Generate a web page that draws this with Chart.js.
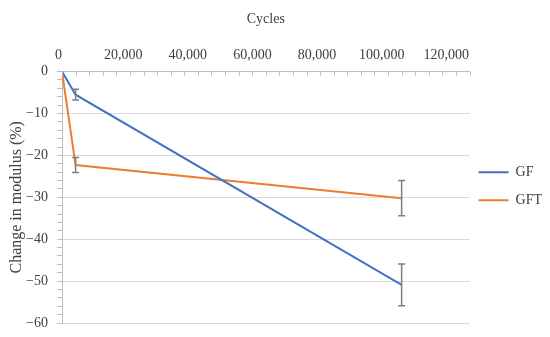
<!DOCTYPE html>
<html>
<head>
<meta charset="utf-8">
<script src="https://cdn.jsdelivr.net/npm/chart.js@4.4.0/dist/chart.umd.min.js"></script>
<style>
html,body{margin:0;padding:0;background:#fff;}
canvas{display:block;}
</style>
</head>
<body>
<canvas id="c" width="550" height="337"></canvas>
<script>
// ---- data ----
const cycles = [0, 4000, 100000];
const gfValues = [0, -5.5, -50.9];
const gftValues = [0, -22.3, -30.2];
const gfErr = [0, 1.3, 5.0];
const gftErr = [0, 1.8, 4.2];
const seriesNames = ['GF', 'GFT'];
const xTickLabels = [0, 20000, 40000, 60000, 80000, 100000, 120000];
const yTickLabels = [0, -10, -20, -30, -40, -50, -60];

const FONT = 'Liberation Serif';
const TXT = '#404040';
const AXIS = '#bfbfbf';
const GRID = '#d9d9d9';

const errBars = [gfErr, gftErr];
const seriesVals = [gfValues, gftValues];

const errorBarPlugin = {
  id: 'errorBars',
  afterLayout(chart) {
    // nudge the legend closer to the plot, as in the reference
    if (chart.legend) { chart.legend.left -= 5; chart.legend.right -= 5; }
  },
  afterDatasetsDraw(chart) {
    const ctx = chart.ctx;
    const xs = chart.scales.x, ys = chart.scales.y;
    const area = chart.chartArea;
    ctx.save();
    // minor tick marks of the top x axis (drawn inward)
    ctx.strokeStyle = AXIS;
    ctx.lineWidth = 1;
    xs.ticks.forEach(t => {
      const px = Math.round(xs.getPixelForValue(t.value)) + 0.5;
      ctx.beginPath();
      ctx.moveTo(px, area.top);
      ctx.lineTo(px, area.top + 4);
      ctx.stroke();
    });
    // error bars
    ctx.strokeStyle = '#7f7f7f';
    ctx.lineWidth = 1.5;
    seriesVals.forEach((vals, i) => {
      vals.forEach((v, j) => {
        const e = errBars[i][j];
        if (!e) return;
        const px = xs.getPixelForValue(cycles[j]);
        const yt = ys.getPixelForValue(v + e);
        const yb = ys.getPixelForValue(v - e);
        ctx.beginPath();
        ctx.moveTo(px, yt); ctx.lineTo(px, yb);
        ctx.moveTo(px - 3.5, yt); ctx.lineTo(px + 3.5, yt);
        ctx.moveTo(px - 3.5, yb); ctx.lineTo(px + 3.5, yb);
        ctx.stroke();
      });
    });
    ctx.restore();
  }
};

const fmtY = v => v === 0 ? '0' : (v < 0 ? '\u2212' : '') + Math.abs(v);

new Chart(document.getElementById('c'), {
  type: 'scatter',
  data: {
    datasets: [
      {
        label: seriesNames[0],
        data: cycles.map((c, i) => ({x: c, y: gfValues[i]})),
        showLine: true, borderColor: '#4472C4', backgroundColor: '#4472C4',
        borderWidth: 2, pointRadius: 0, tension: 0
      },
      {
        label: seriesNames[1],
        data: cycles.map((c, i) => ({x: c, y: gftValues[i]})),
        showLine: true, borderColor: '#ED7D31', backgroundColor: '#ED7D31',
        borderWidth: 2, pointRadius: 0, tension: 0
      }
    ]
  },
  options: {
    responsive: false,
    animation: false,
    devicePixelRatio: 1,
    layout: {padding: {top: 11, left: 0, right: -7, bottom: 14}},
    plugins: {
      tooltip: {enabled: false},
      legend: {
        position: 'right',
        title: {display: true, text: '', padding: {top: 12, bottom: 12}},
        labels: {
          usePointStyle: true, pointStyle: 'line', pointStyleWidth: 30, boxWidth: 30,
          font: {family: FONT, size: 14}, color: TXT, padding: 14
        }
      }
    },
    scales: {
      x: {
        type: 'linear', position: 'top', min: 0, max: 120000,
        ticks: {display: false, stepSize: 4000, autoSkip: false},
        grid: {drawOnChartArea: false, drawTicks: false},
        border: {color: AXIS, width: 1}
      },
      xl: {
        type: 'linear', position: 'top', axis: 'x', min: 0, max: 126100,
        afterBuildTicks: s => { s.ticks = xTickLabels.map(v => ({value: v})); },
        ticks: {
          font: {family: FONT, size: 14}, color: TXT, padding: 8, labelOffset: -3.5,
          maxRotation: 0, autoSkip: false,
          callback: v => Number(v).toLocaleString('en-US')
        },
        grid: {display: false, drawTicks: false},
        border: {display: false},
        title: {display: true, text: 'Cycles', font: {family: FONT, size: 14}, color: TXT,
                padding: {top: 0, bottom: 11}}
      },
      y: {
        type: 'linear', min: -60, max: 0,
        afterBuildTicks: s => {
          const t = [];
          for (let v = yTickLabels[yTickLabels.length - 1]; v <= yTickLabels[0]; v += 2) t.push({value: v});
          s.ticks = t;
        },
        afterFit: s => { s.width = 62; s.paddingBottom = 0; },
        ticks: {
          font: {family: FONT, size: 14}, color: TXT, padding: 9, autoSkip: false,
          callback: v => (v % 10 === 0 ? fmtY(v) : '')
        },
        grid: {
          color: c => (c.tick && c.tick.value % 10 === 0 && c.tick.value !== 0) ? GRID : 'rgba(0,0,0,0)',
          tickColor: AXIS, tickLength: 5, drawTicks: true
        },
        border: {color: AXIS, width: 1},
        title: {display: true, text: 'Change in modulus (%)', font: {family: FONT, size: 16}, color: TXT,
                padding: {top: 7, bottom: 0}}
      }
    }
  },
  plugins: [errorBarPlugin]
});
</script>
</body>
</html>
